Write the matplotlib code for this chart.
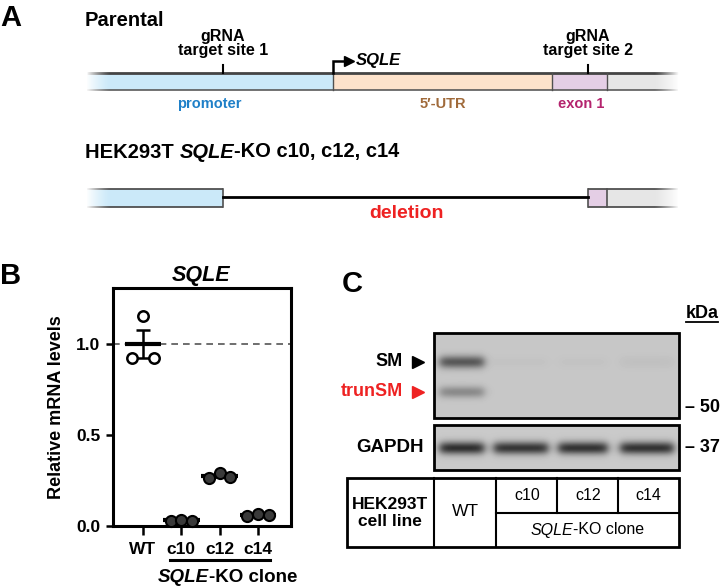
import numpy as np
import matplotlib
matplotlib.use("Agg")
import matplotlib.pyplot as plt
from matplotlib.patches import Rectangle

plt.rcParams['font.family'] = ['Liberation Sans', 'DejaVu Sans']

# ---------------- data ----------------
groups = ['WT', 'c10', 'c12', 'c14']
wt_vals = [0.925, 1.155, 0.925]
c10_vals = [0.030, 0.033, 0.030]
c12_vals = [0.266, 0.290, 0.270]
c14_vals = [0.056, 0.066, 0.058]
yticks = [0.0, 0.5, 1.0]

blot_lanes = ['WT', 'c10', 'c12', 'c14']
sm_band = [0.66, 0.02, 0.02, 0.04]
trunsm_band = [0.36, 0.0, 0.0, 0.0]
gapdh_band = [0.90, 0.86, 0.88, 0.88]
kda_marks = ['50', '37']

region_names = ['promoter', '5\u2032-UTR', 'exon 1']

# ---------------- layout (pixels) ----------------
W, H = 721, 586
fig = plt.figure(figsize=(W / 100, H / 100), dpi=100)
cv = fig.add_axes([0, 0, 1, 1])
cv.set_axis_off()
renderer = fig.canvas.get_renderer()


def rich_text(x, y, parts, ha='left', va='center', size=12, color='black'):
    texts, widths = [], []
    for s, style in parts:
        t = cv.text(0, 0, s, va=va, ha='left', fontsize=size, color=color, **style)
        bb = t.get_window_extent(renderer)
        texts.append(t)
        widths.append(bb.width)
    total = sum(widths)
    cur = x - total / 2 if ha == 'center' else x
    for t, w in zip(texts, widths):
        t.set_position((cur, y))
        cur += w


def fade(x0, x1, y0, y1, left=True):
    n = 64
    a = np.linspace(1, 0, n) ** 1.3 if left else np.linspace(0, 1, n) ** 1.3
    rgba = np.ones((1, n, 4))
    rgba[..., 3] = a
    cv.imshow(rgba, extent=(x0, x1, y1, y0), aspect='auto', interpolation='bilinear', zorder=6)


BOLD = dict(fontweight='bold')
BI = dict(fontweight='bold', fontstyle='italic')

# ================= Panel A =================
cv.text(0, 4, 'A', fontsize=21, fontweight='bold', va='top', ha='left')
cv.text(85, 21, 'Parental', fontsize=14.5, fontweight='bold', va='center', ha='left')

col_prom, col_utr, col_exon, col_gray = '#cbe9f9', '#fde2cb', '#e4cee5', '#e6e6e6'
edge = '#505050'
bx0, bx1 = 87, 678
p_end, u_end, e_end = 333, 552, 607
ytop, ybot = 73, 90
for a, b, c in [(bx0, p_end, col_prom), (p_end, u_end, col_utr), (u_end, e_end, col_exon), (e_end, bx1, col_gray)]:
    cv.add_patch(Rectangle((a, ytop), b - a, ybot - ytop, facecolor=c, edgecolor='none', zorder=2))
cv.plot([bx0, bx1], [ytop, ytop], color='#444444', lw=2.0, zorder=3, solid_capstyle='butt')
cv.plot([bx0, bx1], [ybot, ybot], color='#5a5a5a', lw=1.2, zorder=3, solid_capstyle='butt')
for xd in (p_end, u_end, e_end):
    cv.plot([xd, xd], [ytop, ybot], color=edge, lw=1.0, zorder=3)
fade(bx0 - 1, bx0 + 24, ytop - 2, ybot + 2, left=True)
fade(bx1 - 24, bx1 + 1, ytop - 2, ybot + 2, left=False)

# gRNA sites
for xs, lab in [(223, 'target site 1'), (588, 'target site 2')]:
    cv.text(xs, 36, 'gRNA', fontsize=11.5, fontweight='bold', ha='center', va='center')
    cv.text(xs, 50, lab, fontsize=11.5, fontweight='bold', ha='center', va='center')
    cv.plot([xs, xs], [65, ytop], color='black', lw=1.5, zorder=4)

# TSS arrow
cv.plot([p_end, p_end, 346], [ytop, 61, 61], color='black', lw=1.8, zorder=4, solid_joinstyle='miter')
cv.plot([349], [61], marker='>', color='black', markersize=7, zorder=4)
cv.text(356, 61, 'SQLE', fontsize=12, ha='left', va='center', **BI)

# region labels
cv.text(209, 104, region_names[0], fontsize=10.5, fontweight='bold', color='#1f80c8', ha='center', va='center')
cv.text(443, 104, region_names[1], fontsize=10.5, fontweight='bold', color='#a06a3a', ha='center', va='center')
cv.text(581, 104, region_names[2], fontsize=10.5, fontweight='bold', color='#b4246e', ha='center', va='center')

# KO structure
rich_text(85, 152, [('HEK293T ', BOLD), ('SQLE', BI), ('-KO c10, c12, c14', BOLD)], size=14.5)
ky0, ky1 = 189, 207
s1, s2 = 223, 588
for a, b, c in [(bx0, s1, col_prom), (s2, e_end, col_exon), (e_end, bx1, col_gray)]:
    cv.add_patch(Rectangle((a, ky0), b - a, ky1 - ky0, facecolor=c, edgecolor='none', zorder=2))
for a, b in [(bx0, s1), (s2, bx1)]:
    cv.plot([a, b], [ky0, ky0], color=edge, lw=1.3, zorder=3, solid_capstyle='butt')
    cv.plot([a, b], [ky1, ky1], color=edge, lw=1.3, zorder=3, solid_capstyle='butt')
for xd in (s1, s2, e_end):
    cv.plot([xd, xd], [ky0, ky1], color=edge, lw=1.2, zorder=3)
cv.plot([s1, s2], [197, 197], color='black', lw=2.0, zorder=3)
fade(bx0 - 1, bx0 + 24, ky0 - 2, ky1 + 2, left=True)
fade(bx1 - 24, bx1 + 1, ky0 - 2, ky1 + 2, left=False)
cv.text(406, 214, 'deletion', fontsize=14, fontweight='bold', color='#ee2222', ha='center', va='center')

# ================= Panel B =================
cv.text(0, 262, 'B', fontsize=21, fontweight='bold', va='top', ha='left')
cv.text(201, 275, 'SQLE', fontsize=15.5, ha='center', va='center', **BI)

L, R, T, Bt = 113, 291, 288, 526
axB = fig.add_axes([L / W, (H - Bt) / H, (R - L) / W, (Bt - T) / H])
pos = np.arange(len(groups))
offs = np.array([-0.28, 0.0, 0.28])
all_vals = [wt_vals, c10_vals, c12_vals, c14_vals]
axB.axhline(1.0, color='#555555', lw=1.2, ls=(0, (4, 3)), zorder=1)
for i, vals in enumerate(all_vals):
    v = np.array(vals)
    m = v.mean()
    sem = v.std(ddof=1) / np.sqrt(len(v))
    axB.plot([i - 0.48, i + 0.48], [m, m], color='black', lw=3.0, zorder=2, solid_capstyle='butt')
    axB.errorbar(i, m, yerr=sem, color='black', lw=1.8, capsize=5, capthick=1.8, zorder=2)
    if i == 0:
        axB.plot(i + offs, v, 'o', ms=7.5, mfc='white', mec='black', mew=1.8, zorder=4, clip_on=False, ls='none')
    else:
        axB.plot(i + offs, v, 'o', ms=8, mfc='#3a3a3a', mec='black', mew=1.5, zorder=4, clip_on=False, ls='none')
axB.set_xlim(-0.78, 3.86)
axB.set_ylim(0, 1.31)
axB.set_yticks(yticks)
axB.set_yticklabels([f'{t:.1f}' for t in yticks])
axB.set_xticks(pos)
axB.set_xticklabels(groups)
for sp in axB.spines.values():
    sp.set_linewidth(2.2)
axB.tick_params(axis='y', direction='out', length=5, width=1.8, labelsize=12.5, pad=4)
axB.tick_params(axis='x', direction='out', length=6.5, width=1.8, labelsize=12.5, pad=5)
for lab in axB.get_xticklabels() + axB.get_yticklabels():
    lab.set_fontweight('bold')

cv.text(57, 407, 'Relative mRNA levels', fontsize=13, fontweight='bold', rotation=90, ha='center', va='center')
cv.plot([170, 270], [560, 560], color='black', lw=2.2)
rich_text(228, 577, [('SQLE', BI), ('-KO clone', BOLD)], ha='center', size=13.5)

# ================= Panel C =================
cv.text(342, 270, 'C', fontsize=21, fontweight='bold', va='top', ha='left')
cv.text(702, 313, 'kDa', fontsize=13, fontweight='bold', ha='center', va='center')
cv.plot([686, 718], [322, 322], color='black', lw=1.3)

lane_centers = [462, 521, 583, 647]
lane_widths = [44, 54, 49, 53]


def blot(x0, x1, y0, y1, rows, intens_sets, sigmas, bg):
    nx, ny = int(x1 - x0), int(y1 - y0)
    xs = x0 + np.arange(nx) + 0.5
    ys = y0 + np.arange(ny) + 0.5
    X, Y = np.meshgrid(xs, ys)
    dark = np.zeros_like(X)
    for r, intens, sg in zip(rows, intens_sets, sigmas):
        for c, w, k in zip(lane_centers, lane_widths, intens):
            gx = 1 / (1 + np.exp(-(X - (c - w / 2)) / 2.5)) / (1 + np.exp((X - (c + w / 2)) / 2.5))
            gy = np.exp(-0.5 * ((Y - r) / sg) ** 2)
            dark += k * gx * gy
    dark = np.clip(dark, 0, 1)
    img = bg * (1 - dark) + 0.12 * dark
    cv.imshow(img, cmap='gray', vmin=0, vmax=1, extent=(x0, x1, y1, y0), aspect='auto',
              interpolation='bilinear', zorder=2)
    cv.add_patch(Rectangle((x0, y0), x1 - x0, y1 - y0, facecolor='none', edgecolor='black', lw=2.0, zorder=3))


blot(434, 679, 333, 418, [362, 392], [sm_band, trunsm_band], [4.5, 4.2], 0.78)
blot(434, 679, 425, 470, [448], [gapdh_band], [4.5], 0.79)

cv.text(403, 362, 'SM', fontsize=13, fontweight='bold', ha='right', va='center')
cv.plot([418], [362], marker='>', color='black', markersize=9)
cv.text(403, 392, 'trunSM', fontsize=13, fontweight='bold', color='#ee2222', ha='right', va='center')
cv.plot([418], [392], marker='>', color='#ee2222', markersize=9)
cv.text(424, 448, 'GAPDH', fontsize=13.5, fontweight='bold', ha='right', va='center')
cv.text(685, 408, '\u2013 ' + kda_marks[0], fontsize=13, fontweight='bold', ha='left', va='center')
cv.text(685, 447, '\u2013 ' + kda_marks[1], fontsize=13, fontweight='bold', ha='left', va='center')

# table
tx0, tx1, ty0, ty1 = 347, 679, 478, 547
cv.add_patch(Rectangle((tx0, ty0), tx1 - tx0, ty1 - ty0, facecolor='none', edgecolor='black', lw=2.0, zorder=3))
for xv in (434, 496):
    cv.plot([xv, xv], [ty0, ty1], color='black', lw=1.5)
for xv in (557, 618):
    cv.plot([xv, xv], [ty0, 513], color='black', lw=1.5)
cv.plot([496, tx1], [513, 513], color='black', lw=1.5)
cv.text(390, 513, 'HEK293T\ncell line', fontsize=12.5, fontweight='bold', ha='center', va='center',
        linespacing=1.15)
cv.text(465, 512, blot_lanes[0], fontsize=12.5, ha='center', va='center')
for xc, lab in zip([527, 588, 648], blot_lanes[1:]):
    cv.text(xc, 496, lab, fontsize=11.5, ha='center', va='center')
rich_text(587, 530, [('SQLE', dict(fontstyle='italic')), ('-KO clone', {})], ha='center', size=11.5)

cv.set_xlim(0, W)
cv.set_ylim(H, 0)
fig.savefig('out.png', dpi=100)
